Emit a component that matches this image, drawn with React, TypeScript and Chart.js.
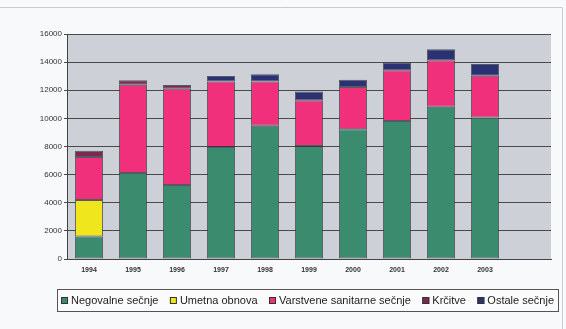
import React, { useEffect, useRef } from "react";
import { Chart, registerables } from "chart.js";

Chart.register(...registerables);

const years = ["1994", "1995", "1996", "1997", "1998", "1999", "2000", "2001", "2002", "2003", ""];
const negovalne = [1600, 6120, 5270, 7970, 9470, 8040, 9230, 9820, 10820, 10060];
const umetna = [2600, null, null, null, null, null, null, null, null, null];
const varstvene = [3060, 6270, 6830, 4650, 3150, 3250, 3010, 3610, 3320, 2970];
const krcitve = [430, 330, 280, null, null, null, null, null, null, null];
const ostale = [null, null, null, 400, 520, 620, 500, 550, 780, 830];
const yTicks = [0, 2000, 4000, 6000, 8000, 10000, 12000, 14000, 16000];

const seriesNames = [
  "Negovalne sečnje",
  "Umetna obnova",
  "Varstvene sanitarne sečnje",
  "Krčitve",
  "Ostale sečnje",
];
const seriesColors = ["#3b8c6e", "#f0e61e", "#f0307a", "#7a2a50", "#2b3274"];

const frameAndLegend = {
  id: "frameAndLegend",
  beforeDraw(chart: any) {
    const { ctx, width, height, chartArea } = chart;
    ctx.save();
    ctx.fillStyle = "#f8f9fb";
    ctx.fillRect(0, 0, width, height);
    ctx.strokeStyle = "#c9cbd0";
    ctx.lineWidth = 1;
    ctx.beginPath();
    ctx.moveTo(0, 7.5);
    ctx.lineTo(width - 3.5, 7.5);
    ctx.lineTo(width - 3.5, height);
    ctx.stroke();
    ctx.fillStyle = "#cdd0d6";
    ctx.fillRect(chartArea.left, chartArea.top, chartArea.right - chartArea.left, chartArea.bottom - chartArea.top);
    ctx.restore();
  },
  afterDraw(chart: any) {
    const { ctx, chartArea } = chart;
    const left = chartArea.left - 10;
    const right = chartArea.right + 7;
    const top = chartArea.bottom + 30;
    const bottom = top + 22;
    ctx.save();
    ctx.fillStyle = "#fbfbfc";
    ctx.fillRect(left, top, right - left, bottom - top);
    ctx.strokeStyle = "#555";
    ctx.lineWidth = 1;
    ctx.strokeRect(left + 0.5, top + 0.5, right - left, bottom - top);
    ctx.font = "11px 'Liberation Sans', Arial, sans-serif";
    ctx.textBaseline = "middle";
    const marker = 7;
    const mgap = 3;
    const widths = seriesNames.map((t) => ctx.measureText(t).width);
    const used = widths.reduce((a, b) => a + b, 0) + seriesNames.length * (marker + mgap);
    const inner = right - left - 8;
    const gap = (inner - used) / (seriesNames.length - 1);
    let x = left + 4;
    const cy = (top + bottom) / 2 + 0.5;
    seriesNames.forEach((name, i) => {
      ctx.fillStyle = seriesColors[i];
      ctx.fillRect(x, cy - marker / 2, marker, marker);
      ctx.strokeStyle = "#333";
      ctx.strokeRect(x + 0.5, cy - marker / 2 + 0.5, marker - 1, marker - 1);
      x += marker + mgap;
      ctx.fillStyle = "#222";
      ctx.fillText(name, x, cy);
      x += widths[i] + gap;
    });
    ctx.restore();
  },
};

export default function App() {
  const ref = useRef<HTMLCanvasElement | null>(null);
  useEffect(() => {
    if (!ref.current) return;
    const mk = (i: number, data: (number | null)[]) => ({
      label: seriesNames[i],
      data,
      backgroundColor: seriesColors[i],
      borderColor: "rgba(50,50,60,0.75)",
      borderWidth: 1,
      borderSkipped: false,
      barPercentage: 0.64,
      categoryPercentage: 1,
    });
    const chart = new Chart(ref.current, {
      type: "bar",
      data: {
        labels: years,
        datasets: [
          mk(0, negovalne),
          mk(1, umetna),
          mk(2, varstvene),
          mk(3, krcitve),
          mk(4, ostale),
        ],
      },
      plugins: [frameAndLegend],
      options: {
        animation: false,
        responsive: false,
        layout: { padding: { left: 0, right: 15, top: 34, bottom: 48 } },
        plugins: {
          legend: { display: false },
          tooltip: { enabled: false },
        },
        scales: {
          x: {
            stacked: true,
            grid: { display: false, drawTicks: false },
            border: { display: true, color: "#444", width: 1 },
            ticks: {
              padding: 7,
              color: "#333",
              font: { size: 7, weight: "bold", family: "'Liberation Sans', Arial, sans-serif" },
              maxRotation: 0,
              autoSkip: false,
            },
            afterFit: (s: any) => {
              s.height = 22;
            },
          },
          y: {
            stacked: true,
            min: 0,
            max: 16000,
            afterBuildTicks: (s: any) => {
              s.ticks = yTicks.map((v) => ({ value: v }));
            },
            grid: { color: "#4a4a4a", lineWidth: 1, tickLength: 3 },
            border: { display: true, color: "#444", width: 1 },
            ticks: {
              padding: 2,
              color: "#333",
              font: { size: 8, family: "'Liberation Sans', Arial, sans-serif" },
              callback: (v: any) => String(v),
            },
            afterFit: (s: any) => {
              s.width = 67;
            },
          },
        },
      },
    });
    return () => chart.destroy();
  }, []);
  return (
    <div style={{ position: "absolute", left: 0, top: 0, width: 566, height: 329 }}>
      <canvas ref={ref} width={566} height={329} style={{ display: "block" }} />
    </div>
  );
}
